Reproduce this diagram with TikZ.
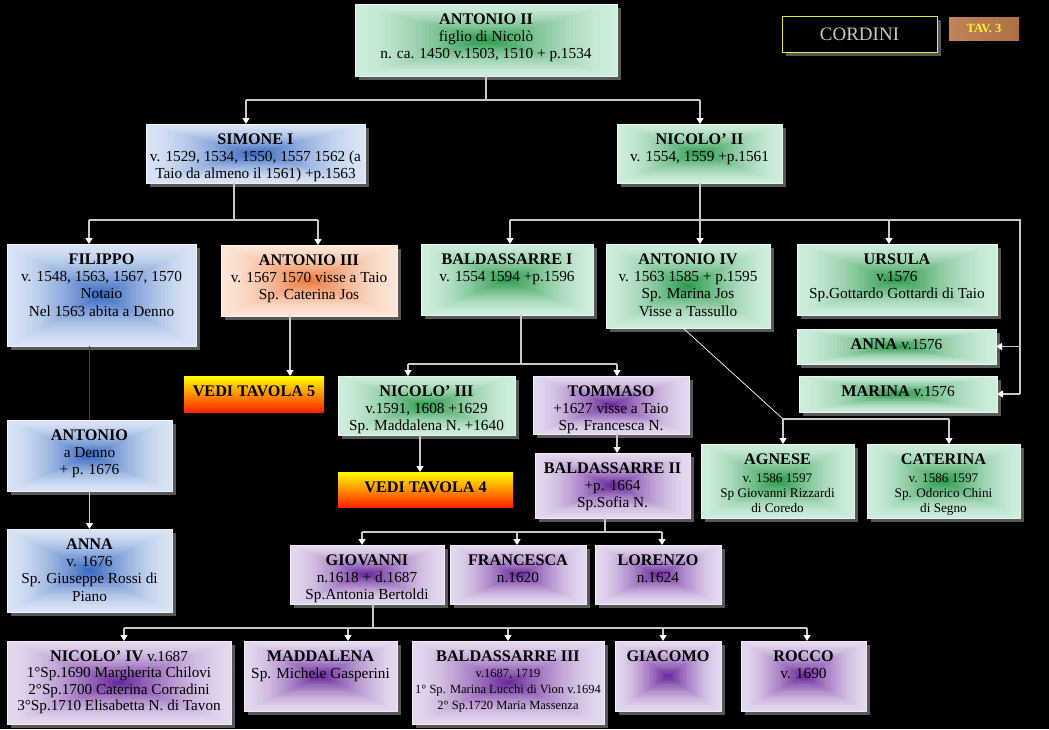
\documentclass[tikz,border=0pt]{standalone}
\usepackage{fontspec}
\setmainfont{Liberation Serif}
\usetikzlibrary{arrows.meta,calc,backgrounds}
\definecolor{gin}{RGB}{38,150,72}
\definecolor{gout}{RGB}{206,237,219}
\definecolor{bin}{RGB}{50,100,190}
\definecolor{bout}{RGB}{216,228,245}
\definecolor{oin}{RGB}{234,118,56}
\definecolor{oout}{RGB}{252,229,215}
\definecolor{pin}{RGB}{100,32,152}
\definecolor{pout}{RGB}{228,216,238}
\definecolor{shad}{RGB}{88,88,88}
\definecolor{conn}{RGB}{200,200,200}
\definecolor{redline}{RGB}{180,15,15}
\definecolor{cordy}{RGB}{230,230,60}
\definecolor{cordt}{RGB}{200,200,200}
\definecolor{woodl}{RGB}{192,132,88}
\definecolor{woodr}{RGB}{172,112,70}
\definecolor{tavy}{RGB}{255,240,60}
\newcommand\fnt{\fontsize{15.3}{17.3}\selectfont}
\newcommand\nm[1]{{\fontsize{16.2}{17.3}\selectfont\bfseries #1}}
\newcommand\cell[3]{\begin{minipage}[t][#2pt][t]{#1pt}\centering\vspace*{9.5pt}#3\end{minipage}}
\tikzset{
  card/.style={anchor=north west, inner sep=0pt, outer sep=0pt, line width=0.8pt, font=\fnt, text=black},
  gcard/.style={card, draw=gout!50!white},
  bcard/.style={card, draw=bout!50!white},
  ocard/.style={card, draw=oout!50!white},
  pcard/.style={card, draw=pout!50!white},
  vedi/.style={anchor=north west, inner sep=0pt, outer sep=0pt, font=\fnt, text=black,
    top color={rgb,255:red,255;green,255;blue,0}, middle color={rgb,255:red,255;green,160;blue,0},
    bottom color={rgb,255:red,255;green,35;blue,0}},
  wire/.style={draw=conn, line width=1.2pt},
  arr/.style={wire, -{Triangle[width=7pt,length=6pt,color=white]}},
}
\begin{document}
\begin{tikzpicture}[x=1pt,y=-1pt]
\useasboundingbox (0,0) rectangle (1049,729);

% boxes
\node[gcard] (ant2) at (355,4) {\cell{262}{72}{\nm{ANTONIO II}\\figlio di Nicolò\\n. ca. 1450 v.1503, 1510 + p.1534}};
\node[anchor=north west, inner sep=0pt, outer sep=0pt, minimum width=155pt, minimum height=36pt, fill=black, draw=cordy, line width=1pt, text=cordt, font=\fontsize{19}{22}\selectfont] (cordini) at (782,16) {CORDINI};
\node[anchor=north west, inner sep=0pt, outer sep=0pt, minimum width=70pt, minimum height=23pt, left color=woodl, right color=woodr, text=tavy, font=\fontsize{12.5}{14}\selectfont\bfseries] (tav) at (949,17) {TAV. 3};

\node[bcard] (simone) at (146,124) {\cell{219}{59}{\nm{SIMONE I}\\v. 1529, 1534, 1550, 1557 1562 (a\\Taio da almeno il 1561) +p.1563}};
\node[gcard] (nic2) at (617,124) {\cell{165}{59}{\nm{NICOLO’ II}\\v. 1554, 1559 +p.1561}};

\node[bcard] (filippo) at (7,244) {\cell{189}{102}{\nm{FILIPPO}\\v. 1548, 1563, 1567, 1570\\Notaio\\Nel 1563 abita a Denno}};
\node[ocard] (ant3) at (221,245) {\cell{176}{71}{\nm{ANTONIO III}\\v. 1567 1570 visse a Taio\\Sp. Caterina Jos}};
\node[gcard] (bald1) at (421,244) {\cell{172}{71}{\nm{BALDASSARRE I}\\v. 1554 1594 +p.1596}};
\node[gcard] (ant4) at (606,244) {\cell{164}{84}{\nm{ANTONIO IV}\\v. 1563 1585 + p.1595\\Sp. Marina Jos\\Visse a Tassullo}};
\node[gcard] (ursula) at (797,244) {\cell{200}{71}{\nm{URSULA}\\v.1576\\Sp.Gottardo Gottardi di Taio}};
\node[gcard] (anna1) at (797,329) {\cell{199}{35}{\nm{ANNA} v.1576}};
\node[gcard] (marina) at (799,376) {\cell{198}{36}{\nm{MARINA} v.1576}};

\node[bcard] (antonio) at (7,420) {\cell{165}{71}{\nm{ANTONIO}\\a Denno\\+ p. 1676}};
\node[bcard] (anna2) at (7,529) {\cell{165}{83}{\nm{ANNA}\\v. 1676\\Sp. Giuseppe Rossi di\\Piano}};

\node[vedi] (vedi5) at (184,376) {\cell{140}{36}{\nm{VEDI TAVOLA 5}}};
\node[gcard] (nic3) at (338,376) {\cell{177}{59}{\nm{NICOLO’ III}\\v.1591, 1608 +1629\\Sp. Maddalena N. +1640}};
\node[vedi] (vedi4) at (338,472) {\cell{175}{35}{\nm{VEDI TAVOLA 4}}};
\node[pcard] (tommaso) at (533,376) {\cell{156}{58}{\nm{TOMMASO}\\+1627 visse a Taio\\Sp. Francesca N.}};
\node[pcard] (bald2) at (535,453) {\cell{155}{65}{\nm{BALDASSARRE II}\\+p. 1664\\Sp.Sofia N.}};

\node[gcard] (agnese) at (701,444) {\cell{153}{74}{\nm{AGNESE}\par\vspace{3pt}{\fontsize{13.2}{15}\selectfont v. 1586 1597\\Sp Giovanni Rizzardi\\di Coredo\par}}};
\node[gcard] (caterina) at (867,444) {\cell{153}{74}{\nm{CATERINA}\par\vspace{3pt}{\fontsize{13.2}{15}\selectfont v. 1586 1597\\Sp. Odorico Chini\\di Segno\par}}};

\node[pcard] (giovanni) at (290,545) {\cell{154}{59}{\nm{GIOVANNI}\\n.1618 + d.1687\\Sp.Antonia Bertoldi}};
\node[pcard] (francesca) at (450,545) {\cell{136}{59}{\nm{FRANCESCA}\\n.1620}};
\node[pcard] (lorenzo) at (595,545) {\cell{126}{59}{\nm{LORENZO}\\n.1624}};

\node[pcard] (nic4) at (7,641) {\cell{224}{83}{\fontsize{15.2}{16.5}\selectfont\nm{NICOLO’ IV} v.1687\\1°Sp.1690 Margherita Chilovi\\2°Sp.1700 Caterina Corradini\\3°Sp.1710 Elisabetta N. di Tavon}};
\node[pcard] (madd) at (244,641) {\cell{153}{70}{\nm{MADDALENA}\\Sp. Michele Gasperini}};
\node[pcard] (bald3) at (412,641) {\cell{192}{83}{\nm{BALDASSARRE III}\par{\fontsize{12.5}{16}\selectfont v.1687, 1719\\1° Sp. Marina Lucchi di Vion v.1694\\2° Sp.1720 Maria Massenza\par}}};
\node[pcard] (giacomo) at (615,641) {\cell{106}{70}{\nm{GIACOMO}}};
\node[pcard] (rocco) at (741,641) {\cell{125}{70}{\nm{ROCCO}\\v. 1690}};

% background, shadows and gradients
\begin{pgfonlayer}{background}
\fill[black] (0,0) rectangle (1049,729);
\fill[shad] ([shift={(4,4)}]cordini.north west) rectangle ([shift={(4,4)}]cordini.south east);
\foreach \n/\ci/\co in {ant2/gin/gout, simone/bin/bout, nic2/gin/gout, filippo/bin/bout, ant3/oin/oout,
  bald1/gin/gout, ant4/gin/gout, ursula/gin/gout, anna1/gin/gout, marina/gin/gout, antonio/bin/bout,
  anna2/bin/bout, nic3/gin/gout, tommaso/pin/pout, bald2/pin/pout, agnese/gin/gout, caterina/gin/gout,
  giovanni/pin/pout, francesca/pin/pout, lorenzo/pin/pout, nic4/pin/pout, madd/pin/pout, bald3/pin/pout,
  giacomo/pin/pout, rocco/pin/pout} {
  \fill[shad] ([shift={(4,4)}]\n.north west) rectangle ([shift={(4,4)}]\n.south east);
  \foreach \i in {0,...,29} {
    \pgfmathsetmacro\s{1-\i/30}
    \pgfmathsetmacro\p{100*(\i/30)*sqrt(\i/30)}
    \fill[\ci!\p!\co] ($(\n.center)!\s!(\n.north west)$) rectangle ($(\n.center)!\s!(\n.south east)$);
  }
}
\end{pgfonlayer}

% connectors: ANTONIO II
\coordinate (b1l) at (246,100);
\coordinate (b1r) at (700,100);
\draw[wire] (ant2.south) -- (ant2.south |- b1l);
\draw[wire] (b1l) -- (b1r);
\draw[arr] (b1l) -- (b1l |- simone.north);
\draw[arr] (b1r) -- (b1r |- nic2.north);

% SIMONE I
\coordinate (s0) at (234,220);
\coordinate (s1) at (89,220);
\coordinate (s2) at (318,220);
\draw[wire] (simone.south -| s0) -- (s0);
\draw[wire] (s1) -- (s2);
\draw[arr] (s1) -- (s1 |- filippo.north);
\draw[arr] (s2) -- (s2 |- ant3.north);

% NICOLO II
\coordinate (n0) at (700,220);
\coordinate (n1) at (510,220);
\coordinate (n3) at (889,220);
\coordinate (n4) at (1020,220);
\draw[wire] (nic2.south -| n0) -- (n0);
\draw[wire] (n1) -- (n4) -- (n4 |- marina.east);
\draw[arr] (n1) -- (n1 |- bald1.north);
\draw[arr] (n0) -- (n0 |- ant4.north);
\draw[arr] (n3) -- (n3 |- ursula.north);
\draw[arr] (n4 |- anna1.east) -- (anna1.east);
\draw[arr] (n4 |- marina.east) -- (marina.east);

% FILIPPO line
\draw[draw=redline, line width=1.3pt] (antonio.north |- filippo.south) -- (antonio.north);
\draw[arr] (antonio.south) -- (anna2.north);

% ANTONIO III
\coordinate (x290) at (290,0);
\draw[arr] (ant3.south -| x290) -- (vedi5.north -| x290);

% BALDASSARRE I
\coordinate (d0) at (521,364);
\coordinate (d1) at (408,364);
\coordinate (d2) at (617,364);
\draw[wire] (bald1.south -| d0) -- (d0);
\draw[wire] (d1) -- (d2);
\draw[arr] (d1) -- (d1 |- nic3.north);
\draw[arr] (d2) -- (d2 |- tommaso.north);
\draw[arr] (tommaso.south -| d2) -- (bald2.north -| d2);

% NICOLO III
\coordinate (x420) at (420,0);
\draw[arr] (nic3.south -| x420) -- (vedi4.north -| x420);

% ANTONIO IV
\coordinate (c0) at (783,419);
\coordinate (c1) at (949,419);
\draw[draw=white, line width=0.7pt] ([xshift=-5pt]ant4.south) -- (c0);
\draw[wire] (c0) -- (c1);
\draw[arr] (c0) -- (c0 |- agnese.north);
\draw[arr] (c1) -- (c1 |- caterina.north);

% BALDASSARRE II
\coordinate (e0) at (605,532);
\coordinate (e1) at (362,532);
\coordinate (e2) at (517,532);
\coordinate (e3) at (662,532);
\draw[wire] (bald2.south -| e0) -- (e0);
\draw[wire] (e1) -- (e3);
\draw[arr] (e1) -- (e1 |- giovanni.north);
\draw[arr] (e2) -- (e2 |- francesca.north);
\draw[arr] (e3) -- (e3 |- lorenzo.north);

% GIOVANNI
\coordinate (f0) at (373,628);
\coordinate (f1) at (124,628);
\coordinate (f2) at (348,628);
\coordinate (f3) at (508,628);
\coordinate (f4) at (663,628);
\coordinate (f5) at (807,628);
\draw[wire] (giovanni.south -| f0) -- (f0);
\draw[wire] (f1) -- (f5);
\draw[arr] (f1) -- (f1 |- nic4.north);
\draw[arr] (f2) -- (f2 |- madd.north);
\draw[arr] (f3) -- (f3 |- bald3.north);
\draw[arr] (f4) -- (f4 |- giacomo.north);
\draw[arr] (f5) -- (f5 |- rocco.north);
\end{tikzpicture}
\end{document}
